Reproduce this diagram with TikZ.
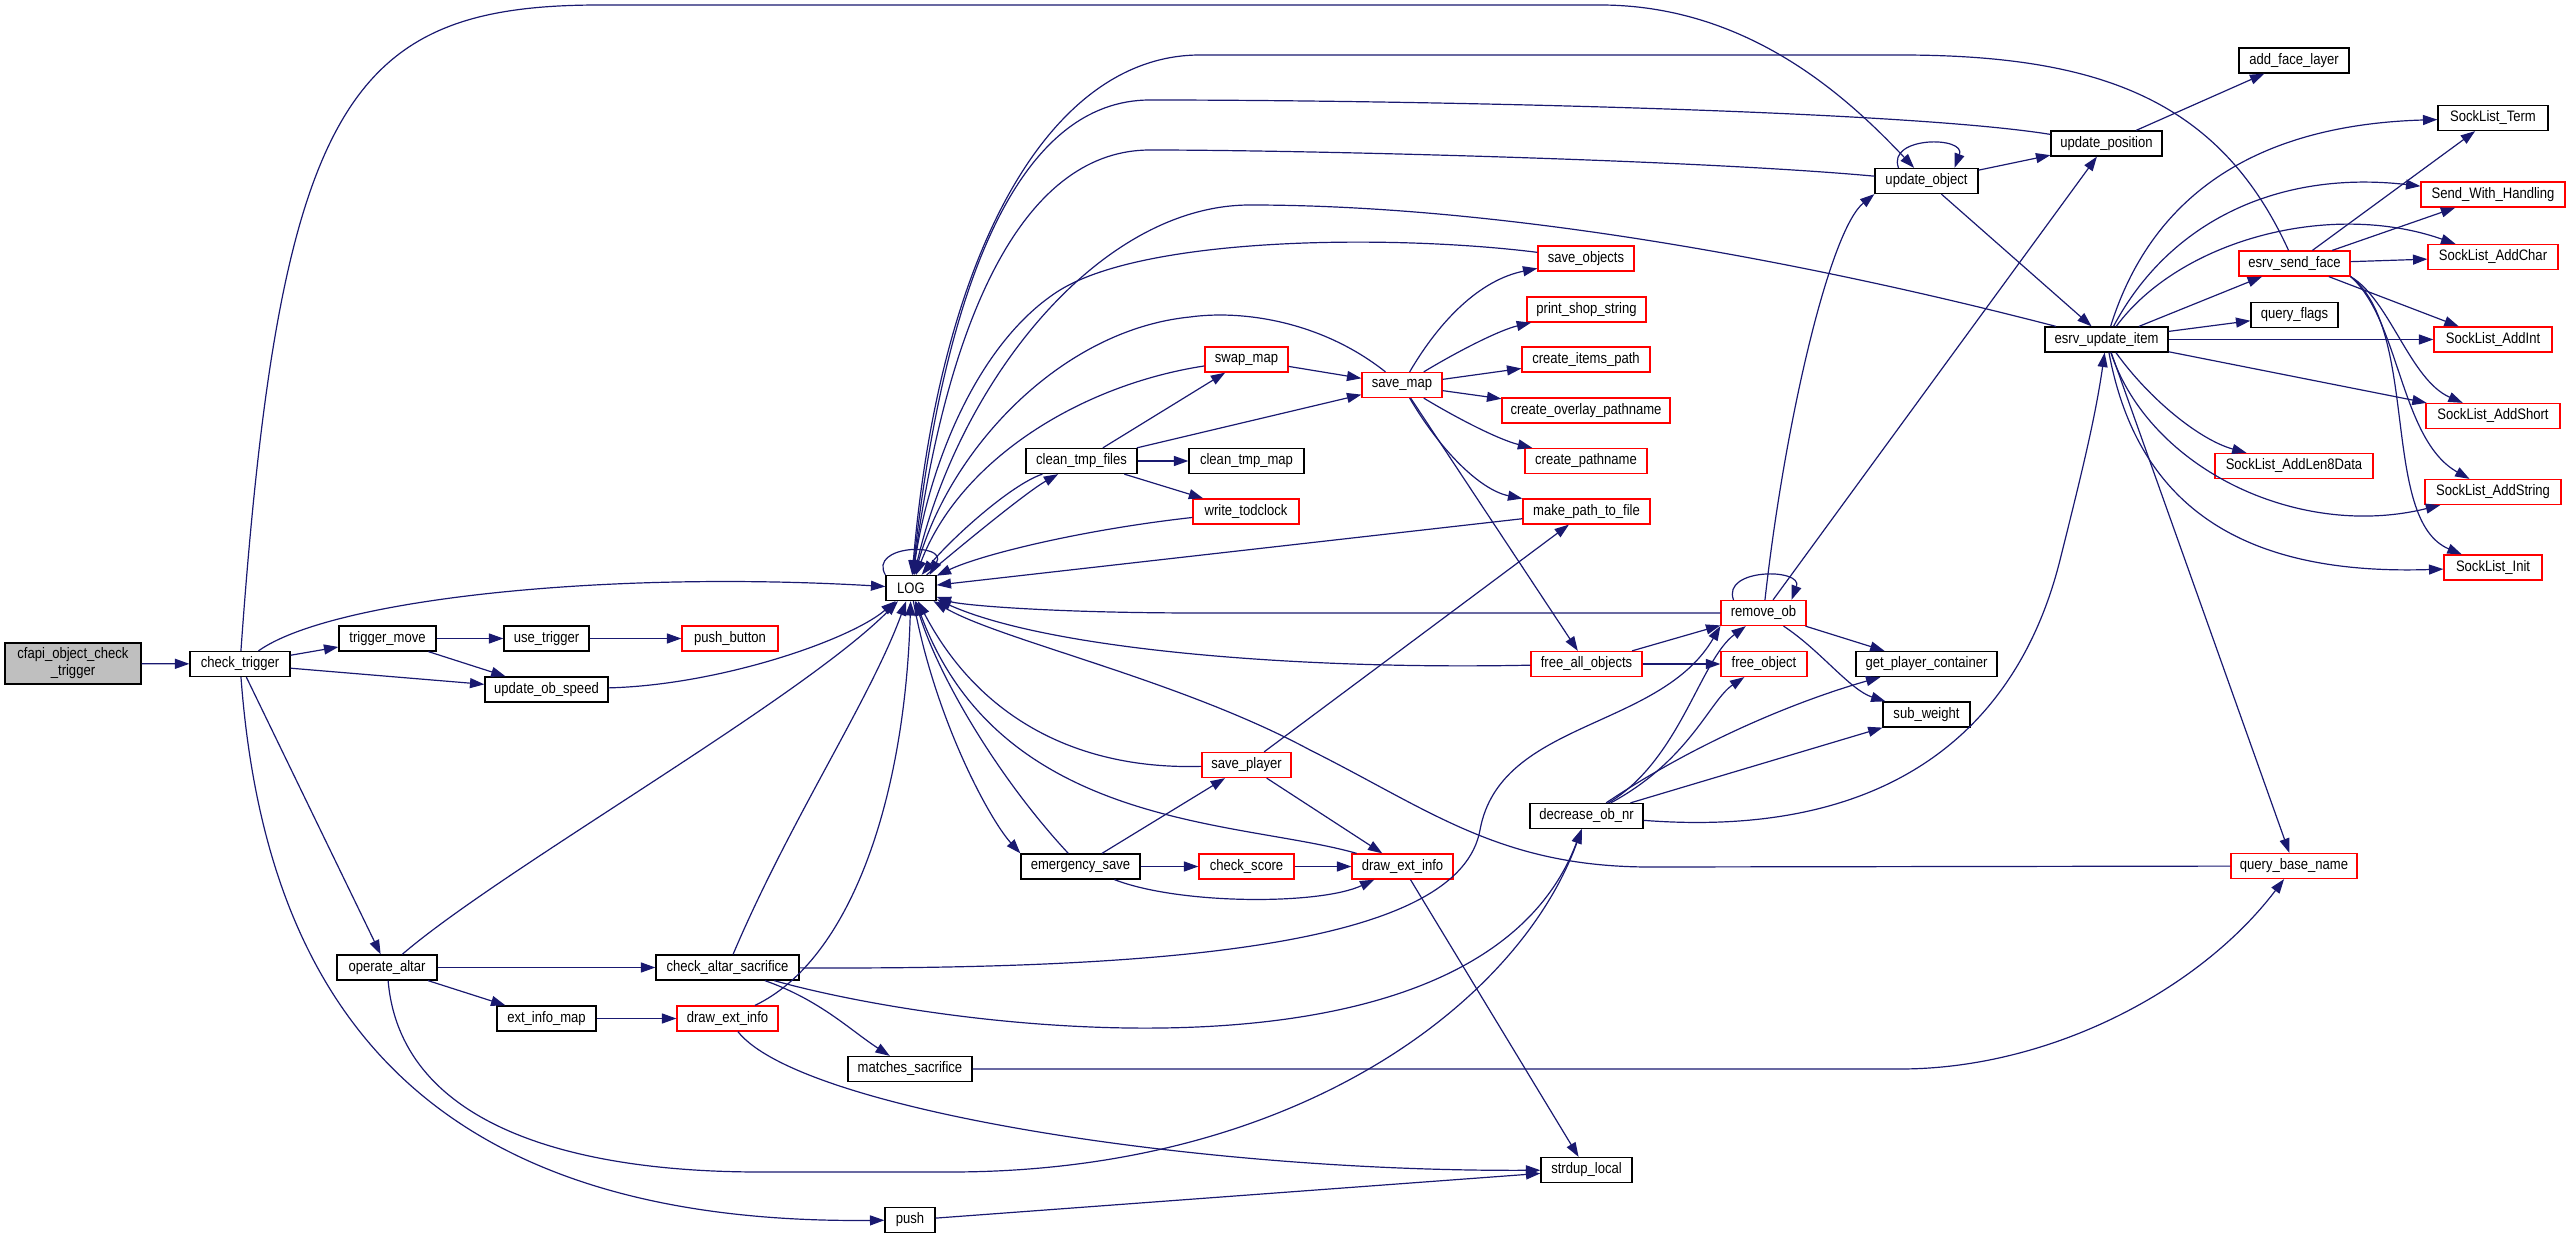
\documentclass[tikz,border=0pt]{standalone}
\usepackage{fontspec}
\setmainfont{Liberation Sans}[FakeStretch=0.86]
\usetikzlibrary{arrows.meta,calc}
\definecolor{callblue}{RGB}{25,25,112}
\definecolor{nodered}{RGB}{255,0,0}
\definecolor{rootgray}{RGB}{191,191,191}
\tikzset{
	fn/.style={draw=black, line width=0.9pt, fill=white, inner sep=0pt, minimum height=25*0.025cm, font=\fontsize{10.8}{12}\selectfont},
	fnred/.style={fn, draw=nodered},
	bw/.style={minimum width=#1*0.025cm},
	call/.style={draw=callblue, line width=0.85pt, -{Triangle[length=0.36cm,width=0.25cm]}}
}
\begin{document}
\begin{tikzpicture}[x=0.025cm, y=-0.025cm]
	\useasboundingbox (0,0) rectangle (2571,1246);
	\node[fn, fill=rootgray, bw=136, minimum height=41*0.025cm, align=center] (root) at (73,663.5) {cfapi\_object\_check\\\_trigger};
	\node[fn, bw=100] (chk) at (240,664) {check\_trigger};
	\node[fn, bw=97] (trig) at (387.5,638.5) {trigger\_move};
	\node[fn, bw=85] (usetrig) at (546.5,638.5) {use\_trigger};
	\node[fnred, bw=96] (pushbtn) at (730,638.5) {push\_button};
	\node[fn, bw=123] (obspeed) at (546.5,689.5) {update\_ob\_speed};
	\node[fn, bw=50] (log) at (911,588) {LOG};
	\node[fn, bw=100] (altar) at (387,967.5) {operate\_altar};
	\node[fn, bw=143] (chkaltar) at (727.5,967.5) {check\_altar\_sacrifice};
	\node[fn, bw=99] (extmap) at (546.5,1018.5) {ext\_info\_map};
	\node[fnred, bw=101] (dextA) at (727.5,1018.5) {draw\_ext\_info};
	\node[fn, bw=124] (matches) at (910,1069) {matches\_sacrifice};
	\node[fn, bw=50] (push) at (910,1220) {push};
	\node[fn, bw=91] (strdup) at (1586.5,1170) {strdup\_local};
	\node[fn, bw=119] (esave) at (1080.5,866.5) {emergency\_save};
	\node[fnred, bw=95] (score) at (1246.5,866.5) {check\_score};
	\node[fnred, bw=101] (dextB) at (1402.5,866.5) {draw\_ext\_info};
	\node[fnred, bw=89] (splayer) at (1246.5,765) {save\_player};
	\node[fn, bw=111] (cleanf) at (1081.5,461) {clean\_tmp\_files};
	\node[fn, bw=115] (cleanm) at (1246.5,461) {clean\_tmp\_map};
	\node[fnred, bw=106] (todclock) at (1246,511.5) {write\_todclock};
	\node[fnred, bw=83] (swap) at (1246.5,359.5) {swap\_map};
	\node[fnred, bw=80] (smap) at (1402,385) {save\_map};
	\node[fnred, bw=96] (sobj) at (1586,258.5) {save\_objects};
	\node[fnred, bw=119] (shop) at (1586.5,309.5) {print\_shop\_string};
	\node[fnred, bw=128] (items) at (1586,359.5) {create\_items\_path};
	\node[fnred, bw=168] (overlay) at (1586,410.5) {create\_overlay\_pathname};
	\node[fnred, bw=122] (pathn) at (1586,461) {create\_pathname};
	\node[fnred, bw=127] (mkpath) at (1586.5,511.5) {make\_path\_to\_file};
	\node[fnred, bw=111] (freeall) at (1586.5,664) {free\_all\_objects};
	\node[fnred, bw=85] (remob) at (1763.5,613) {remove\_ob};
	\node[fnred, bw=86] (freeob) at (1764,664) {free\_object};
	\node[fn, bw=141] (getpc) at (1926.5,664) {get\_player\_container};
	\node[fn, bw=87] (subw) at (1926.5,714.5) {sub\_weight};
	\node[fn, bw=113] (decob) at (1586.5,816) {decrease\_ob\_nr};
	\node[fn, bw=103] (updobj) at (1926.5,181) {update\_object};
	\node[fn, bw=111] (updpos) at (2106.5,143.5) {update\_position};
	\node[fn, bw=110] (addface) at (2294,60.5) {add\_face\_layer};
	\node[fn, bw=123] (updit) at (2106.5,339.5) {esrv\_update\_item};
	\node[fnred, bw=111] (sendface) at (2294.5,263.5) {esrv\_send\_face};
	\node[fn, bw=87] (qflags) at (2294.5,315) {query\_flags};
	\node[fnred, bw=158] (len8) at (2294,466) {SockList\_AddLen8Data};
	\node[fnred, bw=126] (qbase) at (2294,866) {query\_base\_name};
	\node[fn, bw=110] (term) at (2493,118) {SockList\_Term};
	\node[fnred, bw=144] (swh) at (2493,194.5) {Send\_With\_Handling};
	\node[fnred, bw=130] (addchar) at (2493,257) {SockList\_AddChar};
	\node[fnred, bw=118] (addint) at (2493,339.5) {SockList\_AddInt};
	\node[fnred, bw=134] (addshort) at (2493,416) {SockList\_AddShort};
	\node[fnred, bw=136] (addstr) at (2493,492) {SockList\_AddString};
	\node[fnred, bw=98] (sinit) at (2493,567.5) {SockList\_Init};

	\draw[call] (root) -- (chk);
	\draw[call] (chk) .. controls (330,600) and (600,570) .. (log);
	\draw[call] (chk) -- (trig);
	\draw[call] (chk) -- (obspeed);
	\draw[call] (chk) -- (altar);
	\draw[call] (chk) .. controls (265,1000) and (420,1225) .. (push);
	\draw[call] (chk) .. controls (280,100) and (350,5) .. (600,5) -- (1600,5) .. controls (1750,5) and (1850,100) .. (updobj);
	\draw[call] (trig) -- (usetrig);
	\draw[call] (trig) -- (obspeed);
	\draw[call] (usetrig) -- (pushbtn);
	\draw[call] (obspeed) .. controls (720,685) and (850,640) .. (log);
	\draw[call] (altar) .. controls (500,870) and (800,700) .. (log);
	\draw[call] (altar) -- (chkaltar);
	\draw[call] (altar) -- (extmap);
	\draw[call] (altar) .. controls (400,1120) and (560,1172) .. (760,1172) -- (950,1172) .. controls (1300,1172) and (1520,1000) .. (decob);
	\draw[call] (extmap) -- (dextA);
	\draw[call] (dextA) .. controls (850,960) and (905,800) .. (log);
	\draw[call] (dextA) .. controls (800,1110) and (1200,1172) .. (strdup);
	\draw[call] (chkaltar) .. controls (790,820) and (870,700) .. (log);
	\draw[call] (chkaltar) .. controls (1200,970) and (1460,940) .. (1480,830) .. controls (1500,720) and (1660,730) .. (remob.south west);
	\draw[call] (chkaltar) .. controls (950,1030) and (1480,1100) .. (decob);
	\draw[call] (chkaltar) .. controls (820,1000) and (850,1030) .. (matches);
	\draw[call] (matches) -- (1900,1069) .. controls (2050,1069) and (2200,990) .. (qbase);
	\draw[call] (push) -- (strdup);

	\draw[call] (log.north west) .. controls (868,545) and (948,542) .. ($(log.north east)+(-7,0)$);
	\draw[call] (log) .. controls (935,720) and (990,820) .. (esave.north west);
	\draw[call] (esave) .. controls (1000,780) and (940,680) .. (log);
	\draw[call] (log) .. controls (980,530) and (1030,490) .. (cleanf);
	\draw[call] (cleanf) .. controls (1010,485) and (950,540) .. (log);
	\draw[call] (cleanf) -- (swap);
	\draw[call] (cleanf) -- (smap);
	\draw[call] (cleanf) -- (cleanm);
	\draw[call] (cleanf) -- (todclock);
	\draw[call] (swap) .. controls (1080,385) and (960,460) .. (log);
	\draw[call] (swap) -- (smap);
	\draw[call] (todclock) .. controls (1080,530) and (980,555) .. (log);
	\draw[call] (smap) .. controls (1320,320) and (1240,310) .. (1190,317) .. controls (1060,330) and (950,450) .. (log);
	\draw[call] (smap) .. controls (1440,320) and (1480,280) .. (sobj);
	\draw[call] (smap) .. controls (1460,350) and (1500,330) .. (shop);
	\draw[call] (smap) -- (items);
	\draw[call] (smap) -- (overlay);
	\draw[call] (smap) .. controls (1460,420) and (1500,440) .. (pathn);
	\draw[call] (smap) .. controls (1440,450) and (1480,490) .. (mkpath);
	\draw[call] (smap) -- (freeall);
	\draw[call] (sobj) .. controls (1400,235) and (1150,235) .. (1060,290) .. controls (980,340) and (930,460) .. (log);
	\draw[call] (mkpath) -- (log);
	\draw[call] (splayer) -- (mkpath);
	\draw[call] (splayer) .. controls (1080,770) and (980,720) .. (log);
	\draw[call] (splayer) -- (dextB);
	\draw[call] (esave) -- (splayer);
	\draw[call] (esave) -- (score);
	\draw[call] (esave) .. controls (1180,905) and (1320,905) .. (dextB);
	\draw[call] (score) -- (dextB);
	\draw[call] (dextB) .. controls (1240,820) and (1000,830) .. (log);
	\draw[call] (dextB) -- (strdup);
	\draw[call] (freeall) .. controls (1300,670) and (1050,650) .. (log);
	\draw[call] (freeall) -- (remob);
	\draw[call] (freeall) -- (freeob);

	\draw[call] (remob) -- (1200,613) .. controls (1050,613) and (960,605) .. (log);
	\draw[call] ($(remob.north)+(-30,0)$) .. controls +(-12,-32) and +(12,-32) .. ($(remob.north)+(28,0)$);
	\draw[call] (remob) .. controls (1785,420) and (1830,230) .. (updobj.south west);
	\draw[call] (remob) -- (updpos);
	\draw[call] (remob) -- (getpc);
	\draw[call] (remob) .. controls (1820,650) and (1850,690) .. (subw);
	\draw[call] ($(updobj.north)+(-28,0)$) .. controls +(-12,-32) and +(12,-32) .. ($(updobj.north)+(28,0)$);
	\draw[call] (updobj) -- (updpos);
	\draw[call] (updobj) -- (updit);
	\draw[call] (updobj) .. controls (1700,160) and (1300,150) .. (1150,150) .. controls (1030,150) and (950,300) .. (log);
	\draw[call] (updpos) .. controls (1900,110) and (1400,100) .. (1150,100) .. controls (1020,100) and (945,280) .. (log);
	\draw[call] (updpos) -- (addface);
	\draw[call] (sendface) .. controls (2220,100) and (2100,55) .. (1900,55) -- (1200,55) .. controls (1050,55) and (940,250) .. (log);
	\draw[call] (updit) .. controls (1800,260) and (1500,205) .. (1250,205) .. controls (1100,205) and (960,380) .. (log);
	\draw[call] (updit) -- (sendface);
	\draw[call] (updit) -- (qflags);
	\draw[call] (updit) .. controls (2150,200) and (2250,125) .. (term);
	\draw[call] (updit) .. controls (2170,220) and (2280,170) .. (swh);
	\draw[call] (updit) .. controls (2180,240) and (2330,200) .. (addchar);
	\draw[call] (updit) -- (addint);
	\draw[call] (updit) -- (addshort);
	\draw[call] (updit) .. controls (2150,400) and (2200,440) .. (len8);
	\draw[call] (updit) .. controls (2150,470) and (2300,540) .. (addstr);
	\draw[call] (updit) .. controls (2140,520) and (2260,575) .. (sinit);
	\draw[call] (updit) -- (qbase);
	\draw[call] (sendface) -- (term);
	\draw[call] (sendface) -- (swh);
	\draw[call] (sendface) -- (addchar);
	\draw[call] (sendface) -- (addint);
	\draw[call] (sendface.south east) .. controls (2390,300) and (2410,380) .. (addshort);
	\draw[call] (sendface.south east) .. controls (2400,320) and (2400,440) .. (addstr);
	\draw[call] (sendface.south east) .. controls (2420,330) and (2380,520) .. (sinit);
	\draw[call] (qbase) -- (1650,867) .. controls (1500,867) and (1430,810) .. (1310,750) .. controls (1180,680) and (1000,640) .. (log);
	\draw[call] (decob) .. controls (1680,760) and (1700,660) .. (remob);
	\draw[call] (decob) .. controls (1690,760) and (1710,700) .. (freeob);
	\draw[call] (decob) .. controls (1700,740) and (1800,700) .. (getpc);
	\draw[call] (decob) -- (subw);
	\draw[call] (decob) .. controls (1900,840) and (2020,720) .. (2060,560) .. controls (2080,480) and (2095,420) .. (updit);
\end{tikzpicture}
\end{document}
